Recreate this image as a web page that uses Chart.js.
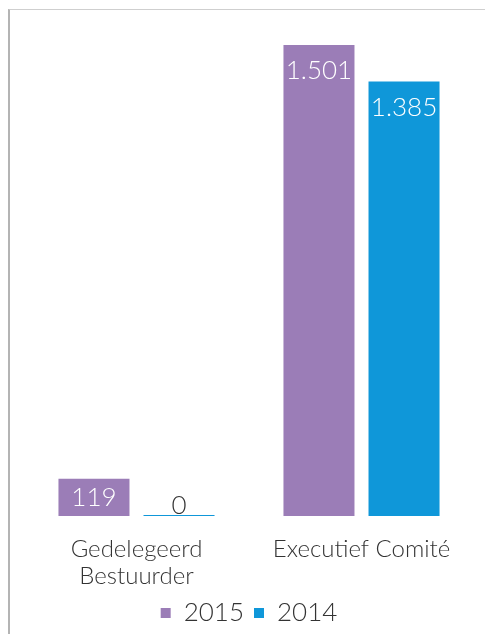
<!DOCTYPE html>
<html>
<head>
<meta charset="utf-8">
<script src="https://cdn.jsdelivr.net/npm/chart.js@4"></script>
<style>
  html, body { margin: 0; padding: 0; background: #fff; }
  #wrap { position: relative; width: 485px; height: 634px; }
  #frame { position: absolute; left: 8px; top: 9px; right: 0; bottom: 0;
           border-left: 2px solid #b4b4b4; border-top: 1px solid #cfcfcf; }
  canvas { position: absolute; left: 0; top: 0; }
</style>
</head>
<body>
<div id="wrap">
  <div id="frame"></div>
  <canvas id="bezoldiging" width="485" height="634"></canvas>
</div>
<script>
// Bezoldiging: Gedelegeerd Bestuurder en Executief Comité, 2015 tegenover 2014

const categories = [['Gedelegeerd', 'Bestuurder'], 'Executief Comité'];
const jaren = ['2015', '2014'];
const waarden2015 = [119, 1501];
const waarden2014 = [0, 1385];

const paars = '#9b7db7';
const blauw = '#0f97d9';
const lettertype = 'Lato, "Open Sans", sans-serif';

function formatNl(v) {
  return String(v).replace(/\B(?=(\d{3})+(?!\d))/g, '.');
}

// waarden in of boven de balken schrijven
const labelPlugin = {
  id: 'waardeLabels',
  afterDatasetsDraw(chart) {
    const ctx = chart.ctx;
    ctx.save();
    ctx.font = '300 26px ' + lettertype;
    ctx.textAlign = 'center';
    ctx.textBaseline = 'middle';
    chart.data.datasets.forEach((ds, i) => {
      chart.getDatasetMeta(i).data.forEach((bar, j) => {
        const v = ds.data[j];
        const h = bar.base - bar.y;
        let y;
        if (v === 0) {
          ctx.fillStyle = '#333';
          y = bar.base - 10;
        } else if (h < 52) {
          ctx.fillStyle = '#fff';
          y = bar.y + h / 2;
        } else {
          ctx.fillStyle = '#fff';
          y = bar.y + 26;
        }
        ctx.fillText(formatNl(v), bar.x, y);
      });
    });
    ctx.restore();
  }
};

new Chart(document.getElementById('bezoldiging'), {
  type: 'bar',
  data: {
    labels: categories,
    datasets: [
      { label: jaren[0], data: waarden2015, backgroundColor: paars },
      { label: jaren[1], data: waarden2014, backgroundColor: blauw, minBarLength: 1 }
    ]
  },
  options: {
    responsive: false,
    animation: false,
    categoryPercentage: 0.756,
    barPercentage: 0.835,
    layout: { padding: { top: 14, left: 24, right: 11, bottom: -2 } },
    scales: {
      y: { display: false, min: 0, max: 1600 },
      x: {
        grid: { display: false, drawTicks: false },
        border: { display: false },
        afterFit(scale) { scale.height = 74; },
        ticks: {
          padding: 20,
          color: '#333',
          font: { family: lettertype, size: 24, weight: 300, lineHeight: 1.125 }
        }
      }
    },
    plugins: {
      tooltip: { enabled: false },
      legend: {
        position: 'bottom',
        labels: {
          boxWidth: 10,
          boxHeight: 10,
          padding: 10,
          color: '#333',
          font: { family: lettertype, size: 26, weight: 300 }
        }
      }
    }
  },
  plugins: [labelPlugin]
});
</script>
</body>
</html>
